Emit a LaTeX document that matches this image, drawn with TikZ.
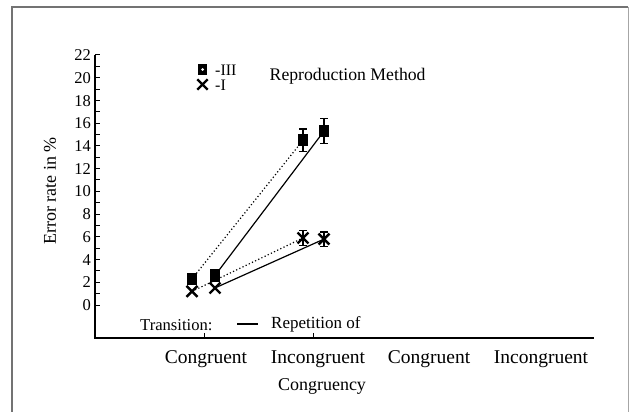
\documentclass[tikz,border=0pt]{standalone}
\usepackage{fontspec}
\setmainfont{Liberation Serif}
\usetikzlibrary{shapes.misc}
\begin{document}
\begin{tikzpicture}[x=1pt,y=-1pt,
  axisline/.style={line width=1.2pt},
  ticklab/.style={font=\fontsize{16.5}{18}\selectfont, anchor=base east, inner sep=0pt},
  catlab/.style={font=\fontsize{19.5}{22}\selectfont, anchor=base, inner sep=0pt},
  txt/.style={inner sep=0pt, anchor=base west},
  sqmark/.style={fill=black, draw=none, minimum width=10.5pt, minimum height=12.5pt, inner sep=0pt},
  xmark/.style={cross out, draw=black, line width=2.4pt, minimum size=8.5pt, inner sep=0pt},
  solidline/.style={line width=1.2pt},
  dotline/.style={line width=1.2pt, dash pattern=on 1.2pt off 2.3pt},
  errbar/.style={line width=1.6pt},
  frameline/.style={draw=black!55, line width=1.6pt}
]
\useasboundingbox (0,0) rectangle (629,412);
% outer frame
\draw[frameline] (12,412) -- (12,7) -- (628,7);
\draw[draw=black!35, line width=0.8pt] (628.3,7) -- (628.3,412);

% axes
\coordinate (ytop) at (95,55);
\coordinate (orig) at (95,338);
\coordinate (xend) at (594,338);
\draw[axisline] (ytop) -- (orig) -- (xend);
\foreach \v in {0,...,22} {
  \draw[line width=1pt] (95,{305-11.364*\v}) -- (100,{305-11.364*\v});
}
\foreach \v in {0,2,...,22} {
  \node[ticklab] at (91,{305-11.364*\v+5.6}) {\v};
}
\draw[line width=1pt] (204,338) -- (204,333);
\draw[line width=1pt] (313,338) -- (313,333);

% axis labels
\node[catlab] (c1) at (206,363) {Congruent};
\node[catlab] (c2) at (318,363) {Incongruent};
\node[catlab] (c3) at (429,363) {Congruent};
\node[catlab] (c4) at (541,363) {Incongruent};
\node[inner sep=0pt, anchor=base, font=\fontsize{18}{20}\selectfont] (xt) at (322,390) {Congruency};
\node[inner sep=0pt, rotate=90, font=\fontsize{18}{20}\selectfont] (yt) at (50,191) {Error rate in \%};

% title and legends
\node[txt, font=\fontsize{17.7}{20}\selectfont] (title) at (269.5,81) {Reproduction Method};
\node[sqmark, minimum width=9pt, minimum height=11pt] (lsq) at (202.5,69.5) {};
\fill[white] (lsq.center) circle (1.5pt);
\node[txt, font=\fontsize{16}{18}\selectfont] (l3) at (215,75) {-III};
\node[xmark, minimum size=8pt] (lx) at (202.5,84.5) {};
\node[txt, font=\fontsize{16}{18}\selectfont] (l1) at (215,90) {-I};
\node[txt, font=\fontsize{16.6}{18}\selectfont] (trans) at (140,330) {Transition:};
\coordinate (lla) at (237,324);
\coordinate (llb) at (258,324);
\draw[line width=2pt] (lla) -- (llb);
\node[txt, font=\fontsize{17}{19}\selectfont] (rep) at (271,328.3) {Repetition of};

% data points
\coordinate (sDC) at (192,{305-11.364*2.3});
\coordinate (sSC) at (215,{305-11.364*2.6});
\coordinate (sDI) at (303,{305-11.364*14.5});
\coordinate (sSI) at (324,{305-11.364*15.3});
\coordinate (xDC) at (192,{305-11.364*1.2});
\coordinate (xSC) at (215,{305-11.364*1.5});
\coordinate (xDI) at (303,{305-11.364*5.9});
\coordinate (xSI) at (324,{305-11.364*5.8});

% connecting lines
\draw[dotline] (sDC) -- (sDI);
\draw[solidline] (sSC) -- (sSI);
\draw[dotline] (xDC) -- (xDI);
\draw[solidline] (xSC) -- (xSI);

% error bars
\foreach \p/\e in {sDI/1.0, sSI/1.1, xDI/0.65, xSI/0.65} {
  \draw[errbar] ([yshift={-11.364*\e}]\p) -- ([yshift={11.364*\e}]\p);
  \draw[errbar] ([xshift=-4pt,yshift={-11.364*\e}]\p) -- ([xshift=4pt,yshift={-11.364*\e}]\p);
  \draw[errbar] ([xshift=-4pt,yshift={11.364*\e}]\p) -- ([xshift=4pt,yshift={11.364*\e}]\p);
}

% markers
\node[sqmark] (msDC) at (sDC) {};
\node[sqmark] (msSC) at (sSC) {};
\node[sqmark] (msDI) at (sDI) {};
\node[sqmark] (msSI) at (sSI) {};
\node[xmark] (mxDC) at (xDC) {};
\node[xmark] (mxSC) at (xSC) {};
\node[xmark] (mxDI) at (xDI) {};
\node[xmark] (mxSI) at (xSI) {};
\end{tikzpicture}
\end{document}
